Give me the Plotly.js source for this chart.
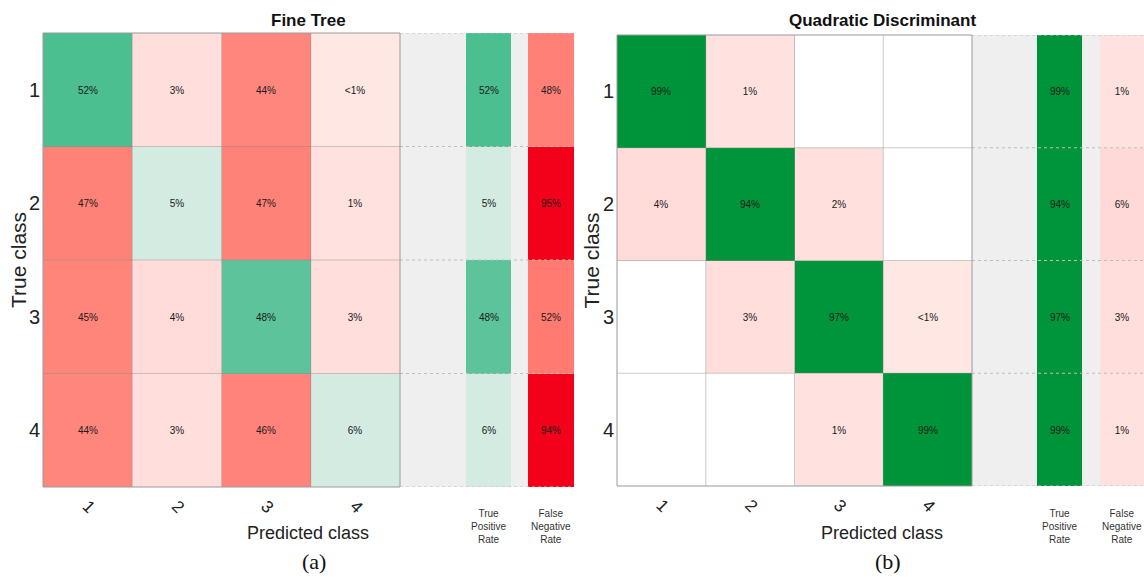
<!DOCTYPE html>
<html>
<head>
<meta charset="utf-8">
<script src="https://cdn.plot.ly/plotly-3.0.1.min.js"></script>
<style>html,body{margin:0;padding:0;background:#fff;}#chart{width:1144px;height:577px;}</style>
</head>
<body>
<div id="chart"></div>
<script>
// ---------- data ----------
const classes = ['1', '2', '3', '4'];
// confusion matrices (row = true class, column = predicted class), percent; 0.4 means "<1%", 0 means empty
const fineTree = [
  [52, 3, 44, 0.4],
  [47, 5, 47, 1],
  [45, 4, 48, 3],
  [44, 3, 46, 6]
];
const fineTreeTPR = [52, 5, 48, 6];
const fineTreeFNR = [48, 95, 52, 94];

const quadDisc = [
  [99, 1, 0, 0],
  [4, 94, 2, 0],
  [0, 3, 97, 0.4],
  [0, 0, 1, 99]
];
const quadDiscTPR = [99, 94, 97, 99];
const quadDiscFNR = [1, 6, 3, 1];

const panelTitles = ['Fine Tree', 'Quadratic Discriminant'];
const panelTags = ['(a)', '(b)'];

// ---------- helpers ----------
const W = 1144, H = 577;
const NARROW = '"Liberation Sans Narrow", "Liberation Sans", Arial, sans-serif';
const REG = '"Liberation Sans", Arial, sans-serif';
const fmt = v => v === 0 ? '' : (v < 1 ? '<1%' : v + '%');
const px = x => x / W;
const py = y => 1 - y / H;

const greenScale = [[0, '#E2F3EB'], [0.05, '#D4EBE1'], [0.07, '#D1EADF'], [0.48, '#5CC39A'], [0.52, '#4BBF8F'], [0.9, '#00963A'], [1, '#00943A']];
const redScale = [[0, '#FFEAE6'], [0.01, '#FFE2DF'], [0.04, '#FFDCDA'], [0.1, '#FFD3D0'], [0.44, '#FF867D'], [0.52, '#FF7A70'], [0.94, '#F3001B'], [1, '#F00018']];

const idx = [1, 2, 3, 4];
const traces = [];
const shapes = [];
const annotations = [];
const layout = {
  width: W, height: H,
  margin: {l: 0, r: 0, t: 0, b: 0},
  paper_bgcolor: '#ffffff',
  plot_bgcolor: 'rgba(0,0,0,0)',
  showlegend: false,
  font: {family: NARROW, color: '#222'}
};

function heat(z, text, scale, xa, ya, xs) {
  return {
    type: 'heatmap', x: xs, y: idx, z: z, text: text,
    texttemplate: '%{text}', textfont: {family: NARROW, size: 10, color: '#1a1a1a'},
    colorscale: scale, zmin: 0, zmax: 100, showscale: false,
    hoverongaps: false, hoverinfo: 'skip',
    xaxis: xa, yaxis: ya
  };
}

// panel geometry (pixels)
const panels = [
  {m: fineTree, tpr: fineTreeTPR, fnr: fineTreeFNR, L: 43, R: 400, top: 33, bot: 487,
   tprL: 466, tprR: 511, fnrL: 528, fnrR: 574, grayR: 574, center: 308, yLab: 18, ax: ['', '2', '3'], y: ''},
  {m: quadDisc, tpr: quadDiscTPR, fnr: quadDiscFNR, L: 617, R: 972, top: 35, bot: 486,
   tprL: 1037, tprR: 1082, fnrL: 1100, fnrR: 1144, grayR: 1144, center: 882, yLab: 591, ax: ['4', '5', '6'], y: '2'}
];

panels.forEach((p, k) => {
  const xm = 'x' + p.ax[0], xt = 'x' + p.ax[1], xf = 'x' + p.ax[2], yy = 'y' + p.y;
  const diagZ = p.m.map((row, i) => row.map((v, j) => i === j ? v : null));
  const offZ = p.m.map((row, i) => row.map((v, j) => (i !== j && v > 0) ? v : null));
  const diagT = p.m.map((row, i) => row.map((v, j) => i === j ? fmt(v) : ''));
  const offT = p.m.map((row, i) => row.map((v, j) => i !== j ? fmt(v) : ''));
  traces.push(heat(diagZ, diagT, greenScale, xm, yy, idx));
  traces.push(heat(offZ, offT, redScale, xm, yy, idx));
  traces.push(heat(p.tpr.map(v => [v]), p.tpr.map(v => [fmt(v)]), greenScale, xt, yy, [1]));
  traces.push(heat(p.fnr.map(v => [v]), p.fnr.map(v => [fmt(v)]), redScale, xf, yy, [1]));

  const axName = a => 'xaxis' + a;
  layout[axName(p.ax[0])] = {
    domain: [px(p.L), px(p.R)], range: [0.5, 4.5], anchor: yy,
    tickvals: idx, ticktext: classes, tickangle: 45, ticks: '', ticklabelstandoff: 5,
    tickfont: {family: NARROW, size: 17, color: '#222'},
    showgrid: false, zeroline: false, showline: false, fixedrange: true
  };
  [[p.ax[1], p.tprL, p.tprR], [p.ax[2], p.fnrL, p.fnrR]].forEach(([a, l, r]) => {
    layout[axName(a)] = {domain: [px(l), px(r)], range: [0.5, 1.5], anchor: yy,
      showticklabels: false, ticks: '', showgrid: false, zeroline: false, showline: false, fixedrange: true};
  });
  layout['yaxis' + p.y] = {
    domain: [py(p.bot), py(p.top)], range: [4.5, 0.5], anchor: xm,
    tickvals: idx, ticktext: classes, ticks: '', ticklabelstandoff: 2,
    tickfont: {family: NARROW, size: 20, color: '#222'},
    showgrid: false, zeroline: false, showline: false, fixedrange: true
  };

  // gray summary area
  shapes.push({type: 'rect', xref: 'paper', yref: 'paper', x0: px(p.R), x1: px(p.grayR), y0: py(p.bot), y1: py(p.top),
    fillcolor: '#EFEFEF', line: {width: 0}, layer: 'below'});
  // dotted row separators across the summary area
  for (let b = 0; b <= 4; b++) {
    shapes.push({type: 'line', xref: 'paper', yref: yy, x0: px(p.R), x1: px(p.grayR), y0: b + 0.5, y1: b + 0.5,
      line: {color: '#BDBDBD', width: 1, dash: 'dot'}, layer: 'above'});
  }
  // inner grid of the matrix
  for (let b = 1; b <= 3; b++) {
    shapes.push({type: 'line', xref: xm, yref: yy + ' domain', x0: b + 0.5, x1: b + 0.5, y0: 0, y1: 1,
      line: {color: 'rgba(140,140,140,0.45)', width: 1}, layer: 'above'});
    shapes.push({type: 'line', xref: xm + ' domain', yref: yy, x0: 0, x1: 1, y0: b + 0.5, y1: b + 0.5,
      line: {color: 'rgba(140,140,140,0.45)', width: 1}, layer: 'above'});
  }
  // matrix outer frame
  shapes.push({type: 'rect', xref: xm + ' domain', yref: yy + ' domain', x0: 0, x1: 1, y0: 0, y1: 1,
    line: {color: '#9A9A9A', width: 1}, layer: 'above'});

  // texts
  annotations.push({text: '<b>' + panelTitles[k] + '</b>', xref: 'paper', yref: 'paper', x: px(p.center), y: py(20),
    showarrow: false, font: {family: NARROW, size: 17, color: '#111'}, xanchor: 'center', yanchor: 'middle'});
  annotations.push({text: 'Predicted class', xref: 'paper', yref: 'paper', x: px(p.center), y: py(533),
    showarrow: false, font: {family: NARROW, size: 18, color: '#222'}, xanchor: 'center', yanchor: 'middle'});
  annotations.push({text: 'True class', xref: 'paper', yref: 'paper', x: px(p.yLab), y: py((p.top + p.bot) / 2),
    textangle: -90, showarrow: false, font: {family: REG, size: 21, color: '#222'}, xanchor: 'center', yanchor: 'middle'});
  annotations.push({text: 'True<br>Positive<br>Rate', xref: 'paper', yref: 'paper', x: px((p.tprL + p.tprR) / 2), y: py(526),
    showarrow: false, font: {family: NARROW, size: 10, color: '#333'}, xanchor: 'center', yanchor: 'middle'});
  annotations.push({text: 'False<br>Negative<br>Rate', xref: 'paper', yref: 'paper', x: px((p.fnrL + p.fnrR) / 2), y: py(526),
    showarrow: false, font: {family: NARROW, size: 10, color: '#333'}, xanchor: 'center', yanchor: 'middle'});
  annotations.push({text: panelTags[k], xref: 'paper', yref: 'paper', x: px(p.center + 6), y: py(561),
    showarrow: false, font: {family: '"Liberation Serif", "Times New Roman", serif', size: 22, color: '#111'}, xanchor: 'center', yanchor: 'middle'});
});

layout.shapes = shapes;
layout.annotations = annotations;

Plotly.newPlot('chart', traces, layout, {staticPlot: true, displayModeBar: false});
</script>
</body>
</html>
